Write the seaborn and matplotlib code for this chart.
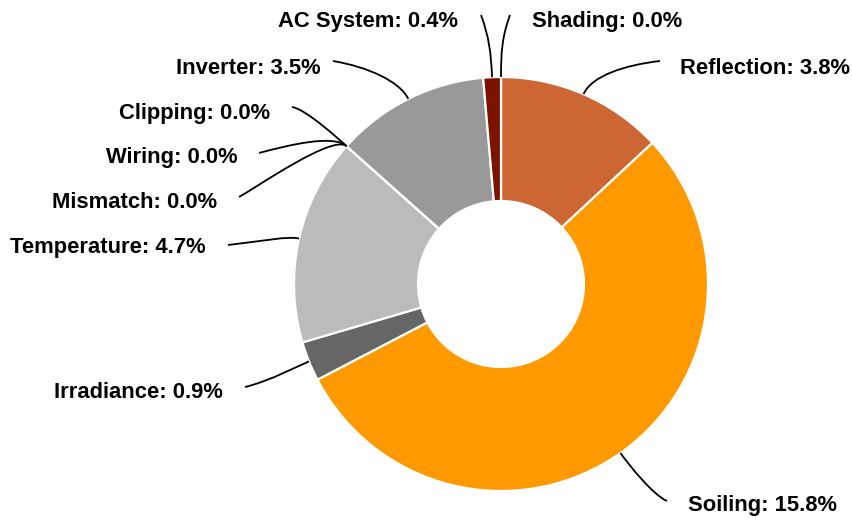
import numpy as np
import matplotlib
matplotlib.use("Agg")
import matplotlib.pyplot as plt
from matplotlib.path import Path
from matplotlib.patches import PathPatch
import seaborn as sns

# loss categories, clockwise from 12 o'clock
labels = ['Shading', 'Reflection', 'Soiling', 'Irradiance', 'Temperature',
          'Mismatch', 'Wiring', 'Clipping', 'Inverter', 'AC System']
losses = [0.0, 3.8, 15.8, 0.9, 4.7, 0.0, 0.0, 0.0, 3.5, 0.4]
colors = ['#8a1a0a', '#cc6633', '#ff9900', '#666666', '#bbbbbb',
          '#555555', '#555555', '#555555', '#999999', '#7a1300']

W, H = 852, 520

# label placement in pixels from top-left:
# text x, text y, align, leader end x, end y, end control dx, dy, radial length
label_layout = {
    'Shading':     (532, 21, 'left', 510, 15, -8, 22, 25),
    'Reflection':  (680, 68, 'left', 660, 61, -35, 4, 20),
    'Soiling':     (688, 506, 'left', 667, 501, -14, -6, 15),
    'Irradiance':  (223, 392, 'right', 245, 387, 25, -6, 10),
    'Temperature': (206, 247, 'right', 228, 245, 35, -4, 12),
    'Mismatch':    (217, 202, 'right', 239, 197, 18, -10, 18),
    'Wiring':      (238, 158, 'right', 259, 153, 30, -8, 18),
    'Clipping':    (270, 113, 'right', 292, 107, 14, 2, 8),
    'Inverter':    (321, 68, 'right', 333, 61, 35, 6, 20),
    'AC System':   (458, 21, 'right', 481, 15, 8, 22, 25),
}

sns.set_theme(style="white")
plt.rcParams['font.family'] = ['Liberation Sans', 'DejaVu Sans']

fig = plt.figure(figsize=(W / 100, H / 100), dpi=100)
ax = fig.add_axes([0, 0, 1, 1])

wedges, _ = ax.pie(losses, colors=colors, startangle=90, counterclock=False,
                   radius=207, center=(501, H - 284),
                   wedgeprops=dict(width=124, edgecolor='white', linewidth=1.6))

for w, name, val in zip(wedges, labels, losses):
    tx, ty, ha, ex, ey, cdx, cdy, rl = label_layout[name]
    ang = np.deg2rad((w.theta1 + w.theta2) / 2)
    cx, cy = w.center
    p0 = (cx + w.r * np.cos(ang), cy + w.r * np.sin(ang))
    p1 = (p0[0] + rl * np.cos(ang), p0[1] + rl * np.sin(ang))
    p3 = (ex, H - ey)
    p2 = (ex + cdx, H - (ey + cdy))
    path = Path([p0, p1, p2, p3],
                [Path.MOVETO, Path.CURVE4, Path.CURVE4, Path.CURVE4])
    ax.add_patch(PathPatch(path, facecolor='none', edgecolor='black', lw=1.3))
    ax.text(tx, H - ty, f"{name}: {val:.1f}%", ha=ha, va='center',
            fontsize=15.8, fontweight='bold', color='black')

ax.set_xlim(0, W)
ax.set_ylim(0, H)
ax.set_aspect('equal')
ax.axis('off')

fig.savefig('out.png', dpi=100, facecolor='white')
